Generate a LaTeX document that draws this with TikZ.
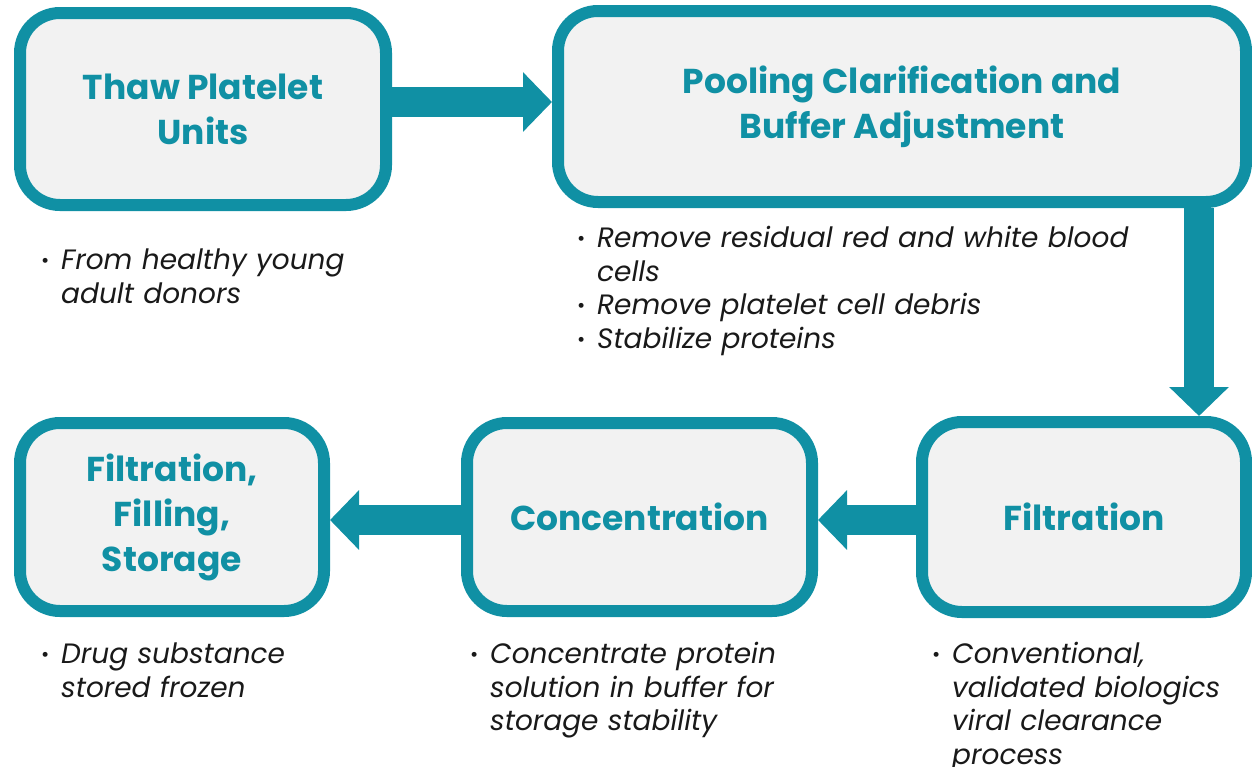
\documentclass[tikz,border=0pt]{standalone}
\usepackage{fontspec}
\setmainfont{Poppins}
\usetikzlibrary{arrows.meta}
\definecolor{tealblue}{RGB}{16,144,164}
\definecolor{boxgray}{RGB}{242,242,242}
\newcommand\bul[1]{\par\hangindent=20pt\hangafter=1\noindent\makebox[20pt][l]{\upshape\raisebox{2pt}{\fontsize{20}{20}\selectfont\textbullet}}#1\par}

\begin{document}
\begin{tikzpicture}[x=1pt,y=-1pt,
    stage/.style={draw=tealblue, line width=12pt, fill=boxgray, rounded corners=40pt,
        inner sep=0pt, text=tealblue, align=center, font=\bfseries\fontsize{34.5}{45}\selectfont},
    notes/.style={anchor=north west, inner sep=0pt, align=left, text width=600pt,
        text=black!90, font=\itshape\fontsize{28}{33.5}\selectfont},
    flow/.style={draw=tealblue, line width=30pt, -{Triangle[width=58pt,length=29pt]}}]
    \useasboundingbox (0,0) rectangle (1252,766);

    \node[stage, minimum width=366pt, minimum height=192pt] (thaw) at (203,109) {Thaw Platelet\\Units};
    \node[stage, minimum width=688pt, minimum height=191pt] (pool) at (902,106.5) {Pooling Clarification and\\Buffer Adjustment};
    \node[stage, minimum width=324pt, minimum height=190pt] (filt) at (1084,517) {Filtration};
    \node[stage, minimum width=345pt, minimum height=188pt] (conc) at (639.5,517) {Concentration};
    \node[stage, minimum width=304pt, minimum height=188pt] (store) at (172,517) {Filtration,\\Filling,\\Storage};

    \coordinate (top) at (0,102);
    \coordinate (down) at (1199,0);
    \coordinate (bottom) at (0,520);
    \draw[flow] (thaw.east |- top) -- (pool.west |- top);
    \draw[flow] (pool.south -| down) -- (filt.north -| down);
    \draw[flow] (filt.west |- bottom) -- (conc.east |- bottom);
    \draw[flow] (conc.west |- bottom) -- (store.east |- bottom);

    \node[notes] (thawnotes) at (41,236) {\bul{From healthy young\newline adult donors}};
    \node[notes] (poolnotes) at (577,214) {\bul{Remove residual red and white blood\newline cells}\bul{Remove platelet cell debris}\bul{Stabilize proteins}};
    \node[notes] (filtnotes) at (932,630) {\bul{Conventional,\newline validated biologics\newline viral clearance\newline process}};
    \node[notes] (concnotes) at (470,630) {\bul{Concentrate protein\newline solution in buffer for\newline storage stability}};
    \node[notes] (storenotes) at (41,630) {\bul{Drug substance\newline stored frozen}};
\end{tikzpicture}
\end{document}
